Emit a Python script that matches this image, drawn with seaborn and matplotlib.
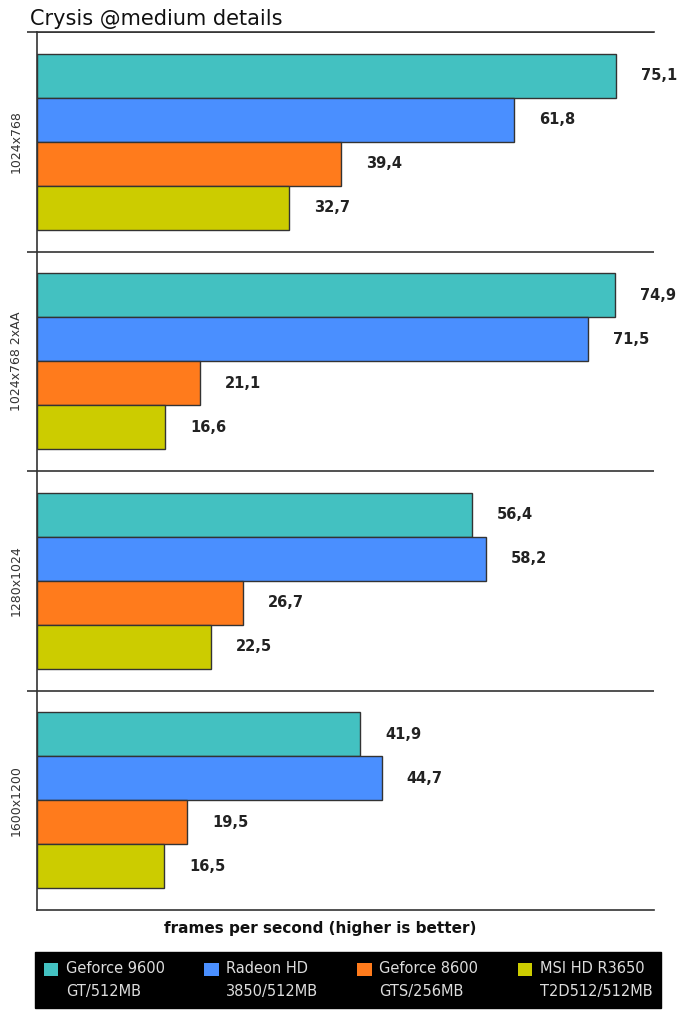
import matplotlib
matplotlib.use("Agg")
import matplotlib.pyplot as plt
import seaborn as sns
import pandas as pd
from matplotlib.patches import Patch

resolutions = ["1024x768", "1024x768 2xAA", "1280x1024", "1600x1200"]
cards = ["Geforce 9600\nGT/512MB", "Radeon HD\n3850/512MB", "Geforce 8600\nGTS/256MB", "MSI HD R3650\nT2D512/512MB"]
geforce9600 = [75.1, 74.9, 56.4, 41.9]
radeon3850 = [61.8, 71.5, 58.2, 44.7]
geforce8600 = [39.4, 21.1, 26.7, 19.5]
msi3650 = [32.7, 16.6, 22.5, 16.5]
colors = ["#43C1C1", "#4A8FFF", "#FF7B1C", "#CCCC00"]

series = [geforce9600, radeon3850, geforce8600, msi3650]
rows = []
for card, vals in zip(cards, series):
    for res, v in zip(resolutions, vals):
        rows.append({"res": res, "card": card, "fps": v})
df = pd.DataFrame(rows)

sns.set_theme(style="white")
plt.rcParams['font.family'] = ['DejaVu Sans']

fig = plt.figure(figsize=(6.84, 10.24), dpi=100)
W, H = 684, 1024
ax = fig.add_axes([37 / W, 1 - 910 / H, (654 - 37) / W, (910 - 32) / H])

sns.barplot(data=df, y="res", x="fps", hue="card", palette=colors, orient="h",
            width=0.8, edgecolor="#333333", linewidth=1, ax=ax, legend=False,
            saturation=1)

ax.set_xlim(0, 80)
ax.set_ylim(3.5, -0.5)
ax.set_xticks([])
ax.set_xlabel("")
ax.set_ylabel("")

for c in ax.containers:
    labels = [f"{v:.1f}".replace(".", ",") for v in c.datavalues]
    ax.bar_label(c, labels=labels, padding=18, fontsize=10.5, fontweight="bold",
                 color="#222222", clip_on=False)

ax.set_yticks(range(len(resolutions)))
ax.set_yticklabels(resolutions, rotation=90, va="center", fontsize=9, color="#333333")
ax.tick_params(axis="y", which="major", length=0, pad=10)
ax.set_yticks([-0.5, 0.5, 1.5, 2.5], minor=True)
ax.tick_params(axis="y", which="minor", length=7, width=1.2, color="#333333", direction="out", left=True)
ax.grid(True, axis="y", which="minor", color="#333333", linewidth=1.2)
ax.grid(False, axis="y", which="major")
ax.set_axisbelow(False)

for s in ["left", "bottom", "top"]:
    ax.spines[s].set_visible(True)
    ax.spines[s].set_color("#333333")
    ax.spines[s].set_linewidth(1.2)
ax.spines["right"].set_visible(False)

fig.text(30 / W, 1 - 19 / H, "Crysis @medium details", fontsize=15, color="#111111",
         ha="left", va="center")
fig.text(320 / W, 1 - 929 / H, "frames per second (higher is better)", fontsize=11,
         fontweight="bold", color="#111111", ha="center", va="center")

handles = [Patch(facecolor=col, edgecolor="none") for col in colors]
leg = fig.legend(handles, cards, ncol=4, loc="center", bbox_to_anchor=(348 / W, 1 - 980 / H),
                 frameon=True, fancybox=False, facecolor="black", edgecolor="black",
                 labelcolor="#dddddd", fontsize=10.5, handlelength=1.0, handleheight=1.0,
                 handletextpad=0.5, columnspacing=2.7, borderpad=0.6, borderaxespad=0)
leg.get_frame().set_alpha(1)
for t in leg.get_texts():
    t.set_linespacing(1.7)
for h in leg.legend_handles:
    h.set_y(h.get_y() + 8)

fig.savefig("out.png", dpi=100, facecolor="white")
